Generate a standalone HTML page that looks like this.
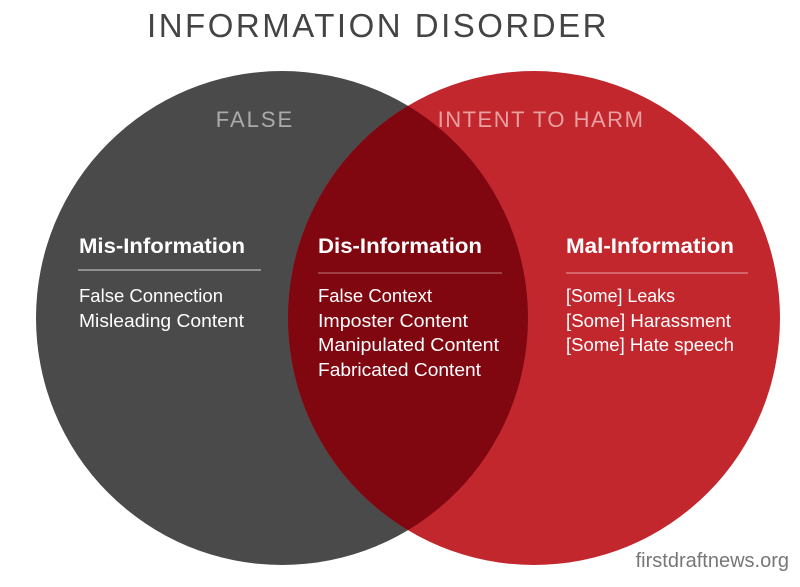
<!DOCTYPE html>
<html><head><style>
body{margin:0;width:800px;height:587px;background:#fff;overflow:hidden;font-family:"Liberation Sans",sans-serif}
</style></head><body>
<svg width="800" height="587" xmlns="http://www.w3.org/2000/svg" style="position:absolute;left:0;top:0">
<defs><clipPath id="lc"><ellipse cx="282" cy="318" rx="246" ry="247"/></clipPath></defs>
<ellipse cx="282" cy="318" rx="246" ry="247" fill="#4a4a4a"/>
<ellipse cx="534" cy="318" rx="246" ry="247" fill="#c1272d"/>
<ellipse cx="534" cy="318" rx="246" ry="247" fill="#800610" clip-path="url(#lc)"/>
<text x="378" y="37" text-anchor="middle" font-size="33" fill="#444" letter-spacing="2.5">INFORMATION DISORDER</text>
<text x="255" y="127" text-anchor="middle" font-size="22" fill="#aaa" letter-spacing="2">FALSE</text>
<text x="541" y="127" text-anchor="middle" font-size="22" fill="#e8a0a0" letter-spacing="1.5">INTENT TO HARM</text>
<g fill="#fff" font-size="21" font-weight="bold" textLength="">
<text x="79" y="253" textLength="166" lengthAdjust="spacingAndGlyphs">Mis-Information</text>
<text x="318" y="253" textLength="164" lengthAdjust="spacingAndGlyphs">Dis-Information</text>
<text x="566" y="253" textLength="168" lengthAdjust="spacingAndGlyphs">Mal-Information</text>
</g>
<g stroke="#bbb" stroke-width="1.2">
<line x1="78" y1="270" x2="261" y2="270"/>
<line x1="318" y1="273" x2="502" y2="273" stroke="#b06068"/>
<line x1="566" y1="273" x2="748" y2="273" stroke="#de8a8e"/>
</g>
<g fill="#fff" font-size="18">
<text x="79" y="302" textLength="144" lengthAdjust="spacingAndGlyphs">False Connection</text>
<text x="79" y="327" textLength="165" lengthAdjust="spacingAndGlyphs">Misleading Content</text>
<text x="318" y="302" textLength="114" lengthAdjust="spacingAndGlyphs">False Context</text>
<text x="318" y="327" textLength="150" lengthAdjust="spacingAndGlyphs">Imposter Content</text>
<text x="318" y="351" textLength="181" lengthAdjust="spacingAndGlyphs">Manipulated Content</text>
<text x="318" y="376" textLength="163" lengthAdjust="spacingAndGlyphs">Fabricated Content</text>
<text x="566" y="302" textLength="109" lengthAdjust="spacingAndGlyphs">[Some] Leaks</text>
<text x="566" y="327" textLength="165" lengthAdjust="spacingAndGlyphs">[Some] Harassment</text>
<text x="566" y="351" textLength="168" lengthAdjust="spacingAndGlyphs">[Some] Hate speech</text>
</g>
<text x="789" y="567" text-anchor="end" font-size="20" fill="#777">firstdraftnews.org</text>
</svg>
</body></html>
